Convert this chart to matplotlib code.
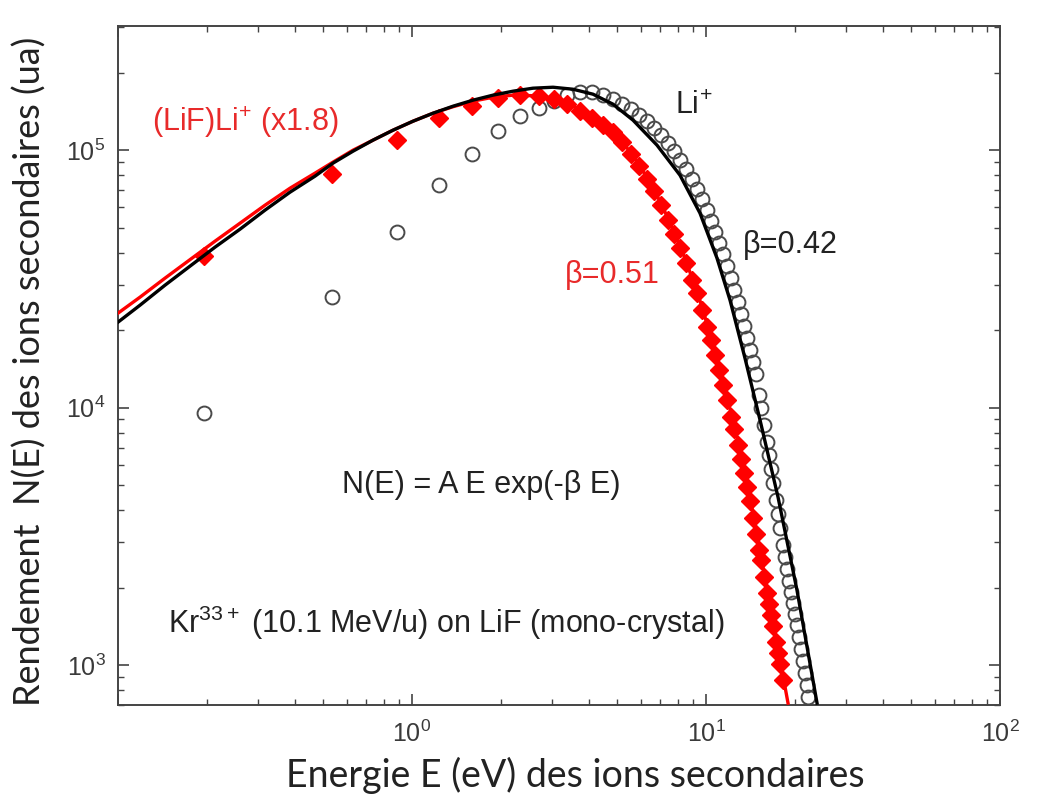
import numpy as np
import matplotlib
matplotlib.use("Agg")
import matplotlib.pyplot as plt
from matplotlib import ticker

# Li+ from LiF, open circles (energy in eV, yield in a.u.)
li_E = [0.196, 0.534, 0.889, 1.236, 1.600, 1.961, 2.330, 2.704, 3.041, 3.367,
        3.728, 4.095, 4.464, 4.828, 5.180, 5.558, 5.917, 6.301, 6.656, 7.030,
        7.426, 7.784, 8.157, 8.551, 8.962, 9.320, 9.692, 10.08, 10.40, 10.73,
        11.07, 11.42, 11.79, 12.16, 12.45, 12.85, 13.15, 13.47, 13.79, 14.12,
        14.45, 14.80, 15.15, 15.39, 15.75, 16.13, 16.38, 16.64, 16.90, 17.31,
        17.58, 17.86, 18.28, 18.57, 18.86, 19.16, 19.46, 19.77, 20.08, 20.39,
        20.72, 21.04, 21.38, 21.71, 22.06, 22.23]
li_N = [9520, 26860, 48040, 73130, 96490, 118500, 135500, 145600, 155000, 163600,
        168000, 168000, 163600, 157800, 150900, 144300, 136700, 129600, 121700, 114400,
        106500, 99100, 91450, 84390, 77170, 70570, 64530, 58480, 53000, 48040,
        43530, 39460, 35440, 31840, 28590, 25680, 23070, 20720, 18610, 16720,
        15020, 13490, 11180, 9956, 8551, 7345, 6538, 5770, 5092, 4372,
        3859, 3404, 2924, 2626, 2359, 2120, 1921, 1741, 1579, 1430,
        1284, 1154, 1036, 931, 836, 751]

# (LiF)Li+ x1.8, red diamonds
lif_E = [0.196, 0.534, 0.889, 1.236, 1.600, 1.961, 2.330, 2.704, 3.041, 3.367,
         3.728, 4.095, 4.464, 4.828, 5.180, 5.558, 5.917, 6.301, 6.656, 7.030,
         7.426, 7.784, 8.157, 8.551, 8.962, 9.320, 9.692, 10.08, 10.40, 10.73,
         11.07, 11.42, 11.79, 12.16, 12.45, 12.85, 13.15, 13.47, 13.79, 14.12,
         14.45, 14.80, 15.15, 15.39, 15.75, 16.13, 16.38, 16.64, 16.90, 17.31,
         17.58, 17.86, 18.28]
lif_N = [38770, 80700, 109400, 133200, 148200, 159200, 163600, 162100, 157800, 150900,
         141700, 133200, 125100, 117500, 107400, 96490, 86670, 77170, 69290, 61140,
         53470, 47180, 41640, 36400, 31270, 27840, 23910, 20540, 18280, 15990,
         13980, 12230, 10690, 9186, 8253, 7153, 6310, 5568, 4912, 4334,
         3724, 3227, 2797, 2557, 2197, 1904, 1726, 1564, 1417, 1228,
         1113, 1009, 874]

# fit curves N(E) = A E exp(-beta E)
fit042_E = [0.100, 0.1188, 0.1445, 0.1757, 0.2138, 0.2600, 0.3162, 0.3846, 0.4677, 0.5384,
            0.6300, 0.7369, 0.8619, 1.008, 1.179, 1.379, 1.612, 1.886, 2.206, 2.579,
            3.017, 3.528, 4.127, 4.828, 5.646, 6.813, 8.157, 9.541, 10.90, 12.07,
            13.57, 15.27, 17.58, 20.39, 23.86]
fit042_N = [21480, 25000, 29900, 35440, 42010, 49330, 58480, 68680, 79250, 89040,
            99110, 109400, 119600, 129600, 139200, 148200, 156400, 163600, 169500, 174100,
            175600, 172500, 165000, 150900, 130800, 104600, 79960, 56930, 38070, 26150,
            15570, 8944, 4491, 1956, 712]
fit051_E = [0.100, 0.1188, 0.1445, 0.1757, 0.2138, 0.2600, 0.3162, 0.3846, 0.4677, 0.5384,
            0.6300, 0.7369, 0.8619, 1.008, 1.179, 1.379, 1.612, 1.886, 2.206, 2.579,
            3.017, 3.528, 4.127, 4.828, 5.646, 6.602, 7.426, 8.352, 9.394, 10.48,
            11.60, 12.85, 14.12, 15.50, 17.03, 19.01]
fit051_N = [23280, 26860, 31840, 37560, 44320, 52050, 61140, 71170, 81410, 89840,
            100000, 109400, 119600, 129600, 139200, 147500, 155000, 160600, 163600, 162800,
            158500, 148200, 134300, 118500, 95630, 71840, 54440, 39810, 27590, 18280,
            11900, 7414, 4491, 2533, 1405, 712]

xticks = [0.1, 1, 10, 100]
xticklabels = ['', r'$10^{0}$', r'$10^{1}$', r'$10^{2}$']
yticks = [1e3, 1e4, 1e5]
yticklabels = [r'$10^{3}$', r'$10^{4}$', r'$10^{5}$']

plt.rcParams['font.family'] = ['Liberation Sans', 'DejaVu Sans']
plt.rcParams['mathtext.fontset'] = 'custom'
plt.rcParams['mathtext.rm'] = 'Liberation Sans'
plt.rcParams['mathtext.it'] = 'Liberation Sans'
plt.rcParams['mathtext.bf'] = 'Liberation Sans:bold'
plt.rcParams['mathtext.default'] = 'rm'

red = '#ff0000'
txt_red = '#e82a2a'
txt_dark = '#222222'

fig = plt.figure(figsize=(10.49, 8.0), dpi=100)
ax = fig.add_axes([118/1049, 1 - 705/800, 882/1049, 679.5/800])

ax.plot(li_E, li_N, 'o', ms=10, mfc='none', mec='#4a4a4a', mew=1.4, zorder=2)
ax.plot(lif_E, lif_N, 'D', ms=8.8, color=red, mec=red, zorder=3)
ax.plot(fit051_E, fit051_N, '-', color=red, lw=2.4, zorder=4)
ax.plot(fit042_E, fit042_N, '-', color='black', lw=2.4, zorder=5)

ax.set_xscale('log')
ax.set_yscale('log')
ax.set_xlim(0.1, 100)
ax.set_ylim(700, 3.05e5)

ax.set_xticks(xticks, xticklabels)
ax.set_yticks(yticks, yticklabels)
ax.xaxis.set_minor_locator(ticker.LogLocator(base=10, subs=np.arange(2, 10)))
ax.yaxis.set_minor_locator(ticker.LogLocator(base=10, subs=np.arange(2, 10)))
ax.xaxis.set_minor_formatter(ticker.NullFormatter())
ax.yaxis.set_minor_formatter(ticker.NullFormatter())

ax.tick_params(which='both', direction='in', top=True, right=True,
               colors='#444444', labelcolor='#3a3a3a')
ax.tick_params(which='major', length=8, width=1.2, labelsize=18)
ax.tick_params(which='minor', length=4, width=1.0)
ax.tick_params(axis='x', which='major', pad=11)
ax.tick_params(axis='y', which='major', pad=9)
for s in ax.spines.values():
    s.set_color('#444444')
    s.set_linewidth(1.4)

# annotations
fs = 22
ax.text(0.0385, 0.857, r'(LiF)Li$^{+}$ (x1.8)', transform=ax.transAxes,
        color=txt_red, fontsize=fs, ha='left', va='center')
ax.text(0.6315, 0.8815, r'Li$^{+}$', transform=ax.transAxes,
        color=txt_dark, fontsize=fs, ha='left', va='center')
ax.text(0.708, 0.677, 'β=0.42', transform=ax.transAxes,
        color=txt_dark, fontsize=fs, ha='left', va='center')
ax.text(0.507, 0.633, 'β=0.51', transform=ax.transAxes,
        color=txt_red, fontsize=fs, ha='left', va='center')
ax.text(0.254, 0.324, 'N(E) = A E exp(-β E)', transform=ax.transAxes,
        color=txt_dark, fontsize=fs, ha='left', va='center')
ax.text(0.0567, 0.1207, r'Kr$^{33+}$ (10.1 MeV/u) on LiF (mono-crystal)',
        transform=ax.transAxes, color=txt_dark, fontsize=fs, ha='left', va='center')

fig.text(575/1049, 1 - 775/800, 'Energie E (eV) des ions secondaires',
         family='Lato', fontsize=27, color='#222222', ha='center', va='center')
fig.text(30/1049, 1 - 371/800, 'Rendement  N(E) des ions secondaires (ua)',
         family='Lato', fontsize=26, color='#222222', ha='center', va='center',
         rotation=90)

fig.savefig('out.png', dpi=100)
